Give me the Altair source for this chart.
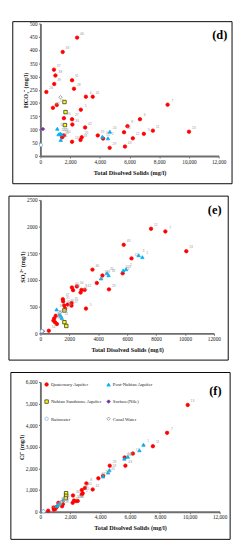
import altair as alt
import pandas as pd

GROUPS = ["Quaternary Aquifer", "Post-Nubian Aquifer", "Nubian Sandstone Aquifer",
          "Surface(Nile)", "Rainwater", "Canal Water"]
SHAPES = ["circle", "triangle-up", "square", "diamond", "circle", "diamond"]
FILLS = ["#FF0000", "#00B0F0", "#FFFF00", "#7030A0", "#FFFFFF", "#FFFFFF"]
STROKES = ["#FF0000", "#00B0F0", "#333333", "#7030A0", "#8FB4E3", "#888888"]
SIZES = [13, 13, 18, 16, 16, 18]

# ---------------- panel (d) HCO3 ----------------
d_q_tds = [2470, 1500, 910, 1010, 930, 400, 2130, 2260, 3060, 3520, 1100, 840, 2720, 1580, 2130, 2150,
           3010, 1580, 1460, 2130, 2780, 2700, 3860, 4220, 4660, 5630, 5860, 6700, 6960, 6220, 5690,
           7570, 8560, 10000]
d_q_val = [447, 393, 326, 304, 272, 242, 286, 254, 224, 224, 193, 182, 175, 143, 139, 119,
           108, 78, 71, 54, 71, 61, 78, 66, 31, 90, 113, 139, 84, 67, 36,
           96, 194, 92]
d_q_lab = ["46", "33", "37", "38", "39", "26", "31", "28", "4", "41", "17", "32", "5", "30", "27", "36",
           "42", "40", "35", "14", "25", "18", "19", "15", "29", "10", "8", "6", "3", "12", "43",
           "11", "7", "13"]
d_p_tds = [1137, 1326, 1433, 1219, 1370, 4674, 4168, 4547]
d_p_val = [103, 85, 82, 82, 61, 92, 73, 67]
d_p_lab = ["16", "24", "23", "22", "21", "20", "9", "2"]
d_n_tds = [1620, 1690, 1650]
d_n_val = [204, 166, 117]
d_s_tds = [170]
d_s_val = [102]
d_r_tds = [40]
d_r_val = [42]
d_c_tds = [1350]
d_c_val = [222]

# ---------------- panel (e) SO4 ----------------
e_q_tds = [7650, 8640, 10090, 5760, 6300, 5690, 3600, 4290, 3900, 4740, 3150, 2180, 2260, 2520,
           2840, 2780, 3060, 1550, 1570, 1640, 1700, 2150, 2150, 1880, 1060, 950, 900, 1010, 1140, 580]
e_q_val = [1960, 1910, 1540, 1660, 1405, 1125, 1195, 1085, 945, 825, 465, 860, 810, 880,
           815, 765, 815, 640, 600, 525, 465, 570, 520, 540, 330, 280, 240, 210, 175, 50]
e_q_lab = ["11", "7", "13", "43", "12", "10", "46", "118", "44", "29", "5", "40", "33", "34",
           "8", "45", "42", "47", "31", "30", "28", "35", "27", "26", "36", "39", "16", "19", "6", "14"]
e_p_tds = [4605, 4713, 4195, 5727, 5922, 6791, 7050, 1120, 1330, 1400, 1480]
e_p_val = [1131, 1089, 1030, 1179, 1202, 1464, 1429, 450, 360, 330, 290]
e_p_lab = ["20", "18", "9", "103", "2", "3", "1", "38", "23", "22", "21"]
e_n_tds = [1660, 1660, 1790]
e_n_val = [430, 210, 140]
e_s_tds = [170]
e_s_val = [40]
e_r_tds = [100]
e_r_val = [40]
e_c_tds = [1350]
e_c_val = [390]

# ---------------- panel (f) Cl ----------------
f_q_tds = [9860, 8480, 7530, 6190, 5640, 5690, 4640, 3880, 4200, 3080, 2980, 2770, 3500, 2830,
           2180, 2250, 2390, 2160, 2500, 1200, 1090, 880, 990, 520, 1500, 1450, 900, 2770]
f_q_val = [4940, 3650, 3030, 2690, 2510, 2130, 2130, 1545, 1660, 1310, 1100, 1000, 1030, 850,
           750, 515, 490, 410, 500, 410, 220, 190, 120, 45, 350, 250, 100, 800]
f_q_lab = ["13", "7", "11", "12", "10", "43", "29", "44", "118", "8", "40", "33", "42", "45",
           "34", "35", "30", "27", "31", "36", "39", "19", "16", "14", "47", "28", "26", "5"]
f_p_tds = [6900, 6630, 5850, 5620, 4620, 4530, 4200, 1510, 1340, 1200, 1090]
f_p_val = [3100, 2840, 2540, 2455, 1925, 1810, 1630, 530, 410, 340, 265]
f_p_lab = ["1", "3", "2", "103", "18", "20", "9", "21", "22", "23", "38"]
f_n_tds = [1720, 1720, 1700]
f_n_val = [855, 735, 630]
f_s_tds = [200]
f_s_val = [20]
f_r_tds = [210]
f_r_val = [15]
f_c_tds = [1400]
f_c_val = [450]


def build(series):
    rows = []
    for g, (xs, ys, labs) in zip(GROUPS, series):
        for i, (a, b) in enumerate(zip(xs, ys)):
            rows.append({"tds": a, "val": b, "group": g,
                         "lab": labs[i] if labs else ""})
    return pd.DataFrame(rows)


df_d = build([(d_q_tds, d_q_val, d_q_lab), (d_p_tds, d_p_val, d_p_lab), (d_n_tds, d_n_val, None),
              (d_s_tds, d_s_val, None), (d_r_tds, d_r_val, None), (d_c_tds, d_c_val, None)])
df_e = build([(e_q_tds, e_q_val, e_q_lab), (e_p_tds, e_p_val, e_p_lab), (e_n_tds, e_n_val, None),
              (e_s_tds, e_s_val, None), (e_r_tds, e_r_val, None), (e_c_tds, e_c_val, None)])
df_f = build([(f_q_tds, f_q_val, f_q_lab), (f_p_tds, f_p_val, f_p_lab), (f_n_tds, f_n_val, None),
              (f_s_tds, f_s_val, None), (f_r_tds, f_r_val, None), (f_c_tds, f_c_val, None)])

SERIF = "Liberation Serif"


def axis(fmt, title, vals, pad):
    return alt.Axis(values=vals, format=fmt, title=title, titlePadding=pad,
                    labelOverlap=False, labelFlush=False, labelBound=False,
                    labelSeparation=0, labelFontSize=5.5, labelFont=SERIF)


def panel(df, ytitle, ymax, ystep, xfmt, yfmt, tag, w, h, frame, tagpos, legend_on):
    x = alt.X("tds:Q", scale=alt.Scale(domain=[0, 12000], nice=False),
              axis=axis(xfmt, "Total Disolved Solids (mg/l)", list(range(0, 12001, 2000)), 5))
    y = alt.Y("val:Q", scale=alt.Scale(domain=[0, ymax], nice=False),
              axis=axis(yfmt, ytitle, list(range(0, ymax + 1, ystep)), 1))
    if legend_on:
        leg = alt.Legend(orient="none", legendX=4, legendY=0, columns=2, direction="horizontal",
                         columnPadding=3, rowPadding=11, labelFont=SERIF, labelFontSize=5,
                         labelOffset=2, title=None, symbolStrokeWidth=0.8, labelColor="#222",
                         gridAlign="each")
    else:
        leg = None
    sc = lambda r: alt.Scale(domain=GROUPS, range=r)
    pts = alt.Chart(df).mark_point(filled=True, opacity=1, strokeWidth=0.8).encode(
        x=x, y=y,
        shape=alt.Shape("group:N", scale=sc(SHAPES), legend=leg),
        fill=alt.Fill("group:N", scale=sc(FILLS), legend=leg),
        stroke=alt.Stroke("group:N", scale=sc(STROKES), legend=leg),
        size=alt.Size("group:N", scale=sc(SIZES), legend=leg),
    )
    labs = alt.Chart(df).mark_text(fontSize=3.5, color="#999", dx=5, dy=-4, font="Arial").encode(
        x=x, y=y, text="lab:N")
    box = alt.Chart(pd.DataFrame({"k": [0]})).mark_rect(
        fillOpacity=0, stroke="black", strokeWidth=1).encode(
        x=alt.value(frame[0]), x2=alt.value(frame[1]),
        y=alt.value(frame[2]), y2=alt.value(frame[3]))
    tg = alt.Chart(pd.DataFrame({"t": [tag]})).mark_text(
        font=SERIF, fontSize=13, fontWeight="bold", align="right", baseline="middle",
        color="black").encode(text="t:N", x=alt.value(tagpos[0]), y=alt.value(tagpos[1]))
    return alt.layer(box, pts, labs, tg).properties(width=w, height=h)


pd_ = panel(df_d, "HCO₃⁻ (mg/l)", 500, 50, ",.0f", ".0f", "(d)", 187, 139,
            (-29, 201, -2, 168), (196, 12), False)
pe_ = panel(df_e, "SO₄²⁻ (mg/l)", 2500, 500, ".0f", ".0f", "(e)", 182, 140,
            (-33, 197, -4, 168), (190, 11), False)
pf_ = panel(df_f, "Cl⁻ (mg/l)", 6000, 1000, ",.0f", ",.0f", "(f)", 188, 136,
            (-31, 199, -10, 165), (190, 10), True)

chart = alt.vconcat(pd_, pe_, pf_, spacing=11).resolve_scale(
    shape="independent", fill="independent", stroke="independent", size="independent"
).properties(padding=0).configure_view(strokeWidth=0).configure_axis(
    domainColor="#6E6E6E", domainWidth=2, tickColor="#6E6E6E", tickSize=2, tickWidth=1,
    labelColor="#222", labelPadding=1.5, labelOverlap=False,
    titleFont=SERIF, titleFontSize=6.5, titleFontWeight="bold", titleColor="#111", grid=False
)

chart.save("out.html", embed_options={"renderer": "svg", "actions": False})
